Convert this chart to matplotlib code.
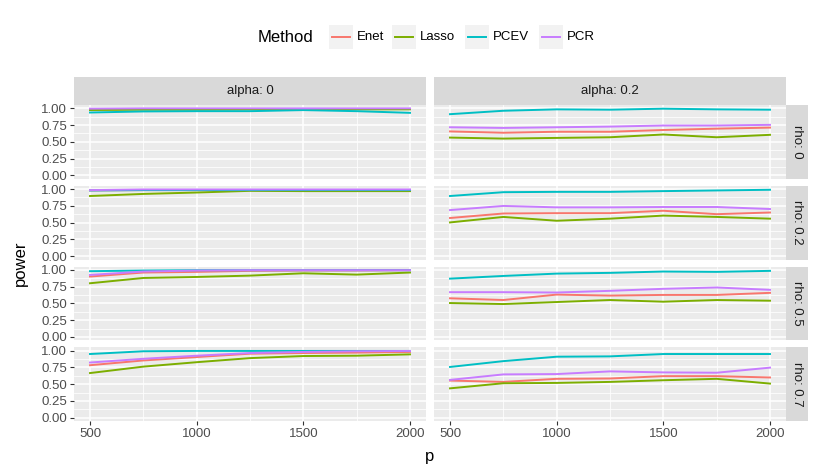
import numpy as np
import matplotlib
matplotlib.use("Agg")
import matplotlib.pyplot as plt
from matplotlib.patches import Rectangle
from matplotlib.lines import Line2D

# donnees
p = [500, 750, 1000, 1250, 1500, 1750, 2000]
methods = ["Enet", "Lasso", "PCEV", "PCR"]
colors = ["#F8766D", "#7CAE00", "#00BFC4", "#C77CFF"]
alphas = ["0", "0.2"]
rhos = ["0", "0.2", "0.5", "0.7"]

# power[(alpha, rho)][method]
power = {
    ("0", "0"): {
        "Enet":  [0.985, 0.99, 0.99, 0.99, 0.99, 0.99, 0.99],
        "Lasso": [0.975, 0.98, 0.98, 0.985, 0.985, 0.985, 0.985],
        "PCEV":  [0.938, 0.954, 0.958, 0.958, 0.974, 0.958, 0.933],
        "PCR":   [0.995, 1.0, 1.0, 1.0, 1.0, 1.0, 1.0],
    },
    ("0.2", "0"): {
        "Enet":  [0.656, 0.636, 0.651, 0.651, 0.677, 0.697, 0.713],
        "Lasso": [0.564, 0.549, 0.559, 0.569, 0.610, 0.569, 0.605],
        "PCEV":  [0.913, 0.964, 0.985, 0.980, 0.995, 0.985, 0.980],
        "PCR":   [0.718, 0.708, 0.718, 0.728, 0.744, 0.744, 0.754],
    },
    ("0", "0.2"): {
        "Enet":  [0.980, 0.985, 0.985, 0.985, 0.98, 0.985, 0.985],
        "Lasso": [0.897, 0.928, 0.949, 0.974, 0.970, 0.970, 0.970],
        "PCEV":  [0.980, 0.985, 0.985, 0.985, 0.985, 0.985, 0.985],
        "PCR":   [0.985, 0.995, 0.995, 0.995, 0.995, 0.995, 0.995],
    },
    ("0.2", "0.2"): {
        "Enet":  [0.569, 0.636, 0.641, 0.641, 0.677, 0.626, 0.651],
        "Lasso": [0.503, 0.585, 0.528, 0.559, 0.605, 0.585, 0.559],
        "PCEV":  [0.897, 0.954, 0.959, 0.959, 0.970, 0.980, 0.990],
        "PCR":   [0.687, 0.749, 0.728, 0.728, 0.733, 0.733, 0.703],
    },
    ("0", "0.5"): {
        "Enet":  [0.900, 0.960, 0.970, 0.985, 0.990, 0.990, 0.995],
        "Lasso": [0.800, 0.879, 0.894, 0.914, 0.949, 0.929, 0.960],
        "PCEV":  [0.980, 0.990, 0.995, 0.995, 0.995, 0.995, 0.995],
        "PCR":   [0.924, 0.975, 0.990, 0.995, 0.995, 0.995, 0.995],
    },
    ("0.2", "0.5"): {
        "Enet":  [0.576, 0.550, 0.631, 0.616, 0.626, 0.626, 0.657],
        "Lasso": [0.505, 0.490, 0.520, 0.550, 0.525, 0.550, 0.540],
        "PCEV":  [0.869, 0.909, 0.944, 0.955, 0.975, 0.970, 0.985],
        "PCR":   [0.667, 0.667, 0.662, 0.687, 0.717, 0.737, 0.702],
    },
    ("0", "0.7"): {
        "Enet":  [0.782, 0.853, 0.904, 0.954, 0.964, 0.970, 0.980],
        "Lasso": [0.665, 0.761, 0.827, 0.888, 0.919, 0.924, 0.944],
        "PCEV":  [0.949, 0.990, 0.995, 0.995, 0.995, 0.995, 0.995],
        "PCR":   [0.822, 0.878, 0.924, 0.964, 0.980, 0.990, 0.995],
    },
    ("0.2", "0.7"): {
        "Enet":  [0.553, 0.533, 0.579, 0.584, 0.619, 0.619, 0.599],
        "Lasso": [0.437, 0.513, 0.518, 0.533, 0.558, 0.579, 0.508],
        "PCEV":  [0.756, 0.843, 0.909, 0.914, 0.949, 0.949, 0.949],
        "PCR":   [0.563, 0.645, 0.650, 0.690, 0.675, 0.670, 0.746],
    },
}

W, H = 814, 472
plt.rcParams["font.family"] = ["Liberation Sans", "DejaVu Sans"]

fig = plt.figure(figsize=(W / 100, H / 100), dpi=100)


def rect(x0, y0, w, h):
    """convertit des pixels (origine en haut) en coordonnees figure"""
    return [x0 / W, 1 - (y0 + h) / H, w / W, h / H]


col_left = [74, 434]
col_w = 352
row_top0 = 105
row_h = 73.75
gap = 7
strip_h = 28
strip_w = 22

for j, a in enumerate(alphas):
    # bandeau du haut
    sax = fig.add_axes(rect(col_left[j], row_top0 - strip_h, col_w, strip_h))
    sax.set_facecolor("#D9D9D9")
    sax.set_xticks([]); sax.set_yticks([])
    for s in sax.spines.values():
        s.set_visible(False)
    sax.text(0.5, 0.5, "alpha: " + a, ha="center", va="center",
             fontsize=9.5, color="#1A1A1A", transform=sax.transAxes)

    for i, r in enumerate(rhos):
        top = row_top0 + i * (row_h + gap)
        ax = fig.add_axes(rect(col_left[j], top, col_w, row_h))
        ax.set_facecolor("#EBEBEB")
        for s in ax.spines.values():
            s.set_visible(False)
        ax.set_xlim(425, 2075)
        ax.set_ylim(-0.05, 1.05)
        ax.set_xticks([500, 1000, 1500, 2000])
        ax.set_xticks([750, 1250, 1750], minor=True)
        ax.set_yticks([0, 0.25, 0.5, 0.75, 1.0])
        ax.set_yticks([0.125, 0.375, 0.625, 0.875], minor=True)
        ax.grid(which="major", color="white", lw=1.1)
        ax.grid(which="minor", color="white", lw=0.55)
        ax.set_axisbelow(True)
        ax.tick_params(which="minor", length=0)
        ax.tick_params(which="major", length=3, width=0.8, color="#333333",
                       labelsize=9.5, labelcolor="#4D4D4D", pad=2)
        if j == 0:
            ax.set_yticklabels(["0.00", "0.25", "0.50", "0.75", "1.00"])
        else:
            ax.tick_params(axis="y", which="major", length=0, labelleft=False)
        if i == len(rhos) - 1:
            ax.set_xticklabels(["500", "1000", "1500", "2000"])
        else:
            ax.tick_params(axis="x", which="major", length=0, labelbottom=False)

        for m, c in zip(methods, colors):
            ax.plot(p, power[(a, r)][m], color=c, lw=1.4)

        if j == len(alphas) - 1:
            rax = fig.add_axes(rect(col_left[j] + col_w, top, strip_w, row_h))
            rax.set_facecolor("#D9D9D9")
            rax.set_xticks([]); rax.set_yticks([])
            for s in rax.spines.values():
                s.set_visible(False)
            rax.text(0.5, 0.5, "rho: " + r, ha="center", va="center",
                     rotation=-90, fontsize=9.5, color="#1A1A1A",
                     transform=rax.transAxes)

# titres des axes
fig.text(430 / W, 1 - 457 / H, "p", ha="center", va="center", fontsize=12)
fig.text(20 / W, 1 - 263 / H, "power", ha="center", va="center",
         rotation=90, fontsize=12)

# legende
ly = 37
fig.text(258 / W, 1 - ly / H, "Method", ha="left", va="center", fontsize=12)
key_x = [329, 392, 465, 539]
for x0, m, c in zip(key_x, methods, colors):
    fig.patches.append(Rectangle((x0 / W, 1 - (ly + 12) / H), 24 / W, 24 / H,
                                 transform=fig.transFigure,
                                 facecolor="#F2F2F2", edgecolor="none"))
    fig.lines.append(Line2D([(x0 + 3) / W, (x0 + 21) / W], [1 - ly / H] * 2,
                            transform=fig.transFigure, color=c, lw=1.4))
    fig.text((x0 + 28) / W, 1 - ly / H, m, ha="left", va="center", fontsize=9.5)

fig.savefig("out.png", dpi=100)
